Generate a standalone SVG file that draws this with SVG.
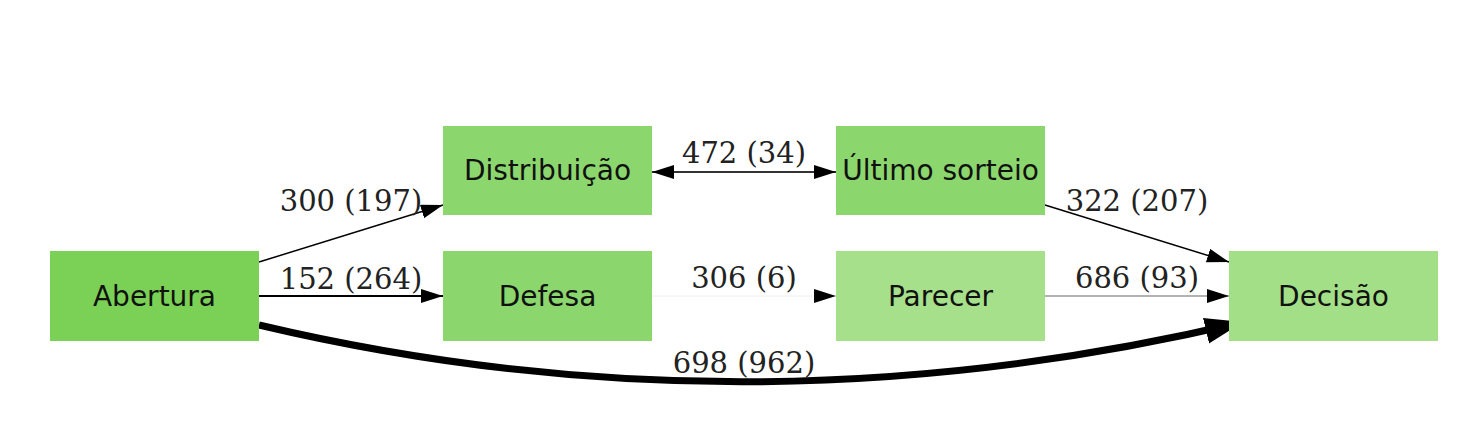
<svg xmlns="http://www.w3.org/2000/svg" width="1484" height="434" viewBox="0 0 1484 434">
<style>
.node text{font-family:"DejaVu Sans",sans-serif;font-size:28px;fill:#111;text-anchor:middle;dominant-baseline:central}
.lbl{font-family:"DejaVu Serif",serif;font-size:29px;fill:#222;text-anchor:middle}
.e{fill:none}
</style>
<defs>
<marker id="a" markerUnits="userSpaceOnUse" markerWidth="24" markerHeight="16" refX="22" refY="7" orient="auto"><path d="M0,0 L22,7 L0,14 z" fill="#000"/></marker>
<marker id="as" markerUnits="userSpaceOnUse" markerWidth="24" markerHeight="16" refX="0" refY="7" orient="auto"><path d="M22,0 L0,7 L22,14 z" fill="#000"/></marker>
<marker id="ab" markerUnits="userSpaceOnUse" markerWidth="42" markerHeight="28" refX="38" refY="13" orient="auto"><path d="M0,0 L38,13 L0,26 z" fill="#000"/></marker>
</defs>
<rect width="1484" height="434" fill="#fff"/>
<g id="connectors">
<path class="e" d="M259,262 L443,205" stroke="#000" stroke-width="1.5" marker-end="url(#a)"/>
<path class="e" d="M259,296 L443,296" stroke="#000" stroke-width="2" marker-end="url(#a)"/>
<path class="e" d="M259,325 Q745,440 1243,322" stroke="#000" stroke-width="7" marker-end="url(#ab)"/>
<path class="e" d="M652,172 L836,172" stroke="#333" stroke-width="2" marker-start="url(#as)" marker-end="url(#a)"/>
<path class="e" d="M652,296 L836,296" stroke="#eee" stroke-width="1" marker-end="url(#a)"/>
<path class="e" d="M1045,205 L1229,262" stroke="#000" stroke-width="1.5" marker-end="url(#a)"/>
<path class="e" d="M1045,296 L1229,296" stroke="#999" stroke-width="1.5" marker-end="url(#a)"/>
<text class="lbl" x="351" y="211">300 (197)</text>
<text class="lbl" x="351" y="289">152 (264)</text>
<text class="lbl" x="744" y="163">472 (34)</text>
<text class="lbl" x="744" y="288">306 (6)</text>
<text class="lbl" x="1137" y="211">322 (207)</text>
<text class="lbl" x="1137" y="288">686 (93)</text>
<text class="lbl" x="744" y="373">698 (962)</text>
</g>
<g id="abertura" class="node"><rect x="50" y="251" width="209" height="90" fill="#7bd155"/><text x="154.5" y="296">Abertura</text></g>
<g id="distribuicao" class="node"><rect x="443" y="126" width="209" height="89" fill="#8cd66e"/><text x="547.5" y="170.5">Distribuição</text></g>
<g id="defesa" class="node"><rect x="443" y="251" width="209" height="90" fill="#8cd66e"/><text x="547.5" y="296">Defesa</text></g>
<g id="ultimo" class="node"><rect x="836" y="126" width="209" height="89" fill="#8cd66e"/><text x="940.5" y="170.5">Último sorteio</text></g>
<g id="parecer" class="node"><rect x="836" y="251" width="209" height="90" fill="#a6e08a"/><text x="940.5" y="296">Parecer</text></g>
<g id="decisao" class="node"><rect x="1229" y="251" width="209" height="90" fill="#a3df86"/><text x="1333.5" y="296">Decisão</text></g>
</svg>
